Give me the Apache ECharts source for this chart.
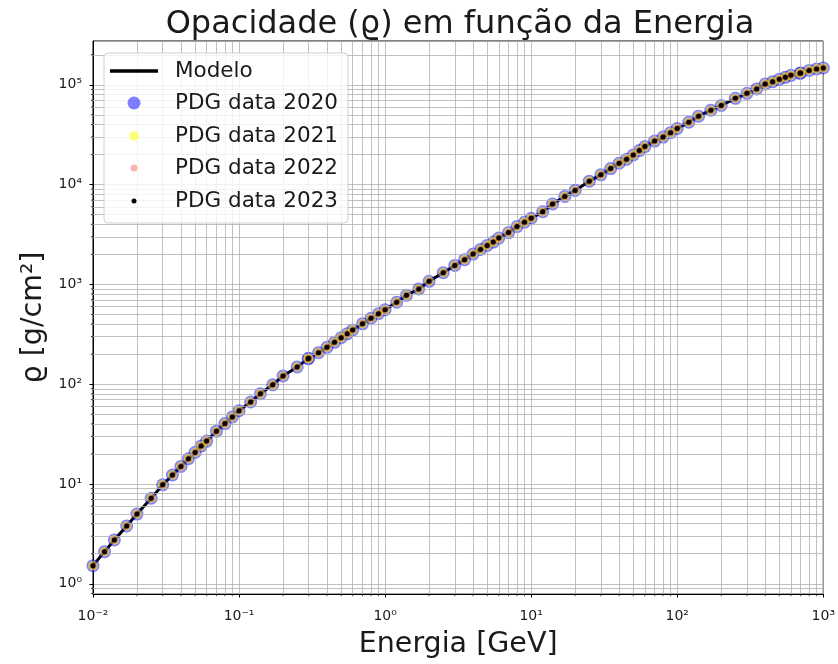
<!DOCTYPE html>
<html>
<head>
<meta charset="utf-8">
<title>Opacidade em função da Energia</title>
<script src="https://cdn.jsdelivr.net/npm/echarts@6/dist/echarts.min.js"></script>
<style>
html, body { margin: 0; padding: 0; background: #fff; }
#grafico { width: 838px; height: 664px; }
</style>
</head>
<body>
<div id="grafico"></div>
<script>
// energias da tabela PDG (GeV)
var energia = [0.01, 0.012, 0.014, 0.017, 0.02, 0.025, 0.03, 0.035, 0.04, 0.045, 0.05, 0.055, 0.06, 0.07, 0.08, 0.09,
	0.1, 0.12, 0.14, 0.17, 0.2, 0.25, 0.297, 0.3, 0.35, 0.4, 0.45, 0.5, 0.55, 0.6, 0.7, 0.8, 0.9,
	1.0, 1.2, 1.4, 1.7, 2, 2.5, 3, 3.5, 4, 4.5, 5, 5.5, 6, 7, 8, 9,
	10, 12, 14, 17, 20, 25, 30, 35, 40, 45, 50, 55, 60, 70, 80, 90,
	100, 120, 140, 170, 200, 250, 300, 350, 400, 450, 500, 550, 600, 693, 700, 800, 900, 1000];
// opacidade (g/cm2)
var opacidade = [1.52, 2.1, 2.75, 3.8, 5.0, 7.2, 9.8, 12.3, 15.0, 17.9, 20.7, 24.0, 26.9, 33.8, 40.3, 47.0,
	54.3, 66.3, 80.2, 98.6, 121, 149, 180, 182, 207, 234, 263, 292, 320, 350, 403, 458, 508,
	557, 663, 778, 902, 1074, 1312, 1550, 1767, 2014, 2240, 2457, 2655, 2911, 3311, 3796, 4198,
	4603, 5357, 6397, 7621, 8756, 10840, 12530, 14490, 16370, 17950, 19820, 21930, 24050, 27340, 29990, 33140,
	36570, 42270, 48530, 55700, 62070, 73300, 82300, 90950, 102000, 107700, 113600, 118900, 124500, 130500, 131500, 139600, 144100, 147500];
var nomesPDG = ['PDG data 2020', 'PDG data 2021', 'PDG data 2022', 'PDG data 2023'];
var coresPDG = ['#0000ff', '#ffff00', '#ff0000', '#000000'];
var opacPDG = [0.5, 0.5, 0.3, 1];
var tamPDG = [13, 10, 7, 5];
var mantissas = [2, 3, 4, 5, 6, 7, 8, 9];
var decadasX = [-2, -1, 0, 1, 2];
var decadasY = [-1, 0, 1, 2, 3, 4, 5];
var xMin = 0.01, xMax = 1000;
var yMin = 0.79, yMax = 2.75e5;

var FONTE = 'DejaVu Sans';
var COR_TEXTO = '#1a1a1a';
var sobrescrito = {'-': '\u207b', '0': '\u2070', '1': '\u00b9', '2': '\u00b2', '3': '\u00b3', '4': '\u2074', '5': '\u2075'};

function rotuloPot(v) {
	var e = Math.log10(v);
	var n = Math.round(e);
	if (Math.abs(e - n) > 1e-6) return '';
	var s = String(n).split('').map(function (c) { return sobrescrito[c]; }).join('');
	return '10' + s;
}

var pontos = energia.map(function (e, i) { return [e, opacidade[i]]; });

// linhas de grade menores (2..9 x 10^k) e marcas menores nos eixos
var grade = [];
var marcas = [];
decadasX.forEach(function (k) {
	mantissas.forEach(function (m) {
		var v = m * Math.pow(10, k);
		grade.push({xAxis: v});
		marcas.push([v, yMin, 0]);
	});
});
decadasY.forEach(function (k) {
	mantissas.forEach(function (m) {
		var v = m * Math.pow(10, k);
		if (v > yMin && v < yMax) {
			grade.push({yAxis: v});
			marcas.push([xMin, v, 1]);
		}
	});
});

var series = [
	{
		name: 'grade', type: 'line', data: [], z: 1, silent: true,
		markLine: {
			silent: true, symbol: 'none', animation: false,
			label: {show: false},
			lineStyle: {color: '#b0b0b0', width: 0.8, type: 'solid'},
			emphasis: {disabled: true},
			data: grade
		}
	},
	{
		name: 'marcas', type: 'custom', data: marcas, z: 2, silent: true, clip: false,
		renderItem: function (params, api) {
			var p = api.coord([api.value(0), api.value(1)]);
			var vertical = api.value(2) === 0;
			return {
				type: 'line',
				shape: vertical ? {x1: p[0], y1: p[1], x2: p[0], y2: p[1] + 2.2}
					: {x1: p[0] - 2.2, y1: p[1], x2: p[0], y2: p[1]},
				style: {stroke: '#000', lineWidth: 0.7}
			};
		}
	},
	{
		name: 'Modelo', type: 'line', data: pontos, z: 2, showSymbol: false,
		lineStyle: {color: '#000', width: 3}, itemStyle: {color: '#000'}
	}
];
nomesPDG.forEach(function (n, i) {
	series.push({
		name: n, type: 'scatter', data: pontos, z: 3 + i,
		symbolSize: tamPDG[i],
		itemStyle: {color: coresPDG[i], opacity: opacPDG[i]}
	});
});

function legenda(nome, centroY, esquerda, icone, w, h, recuo, cor, opac) {
	return {
		z: 11, left: esquerda, top: centroY - 12, padding: 0,
		selectedMode: false, orient: 'vertical',
		itemWidth: w, itemHeight: h,
		textStyle: {fontFamily: FONTE, fontSize: 21.5, color: COR_TEXTO, padding: [0, 0, 0, recuo]},
		data: [{name: nome, icon: icone, itemStyle: {color: cor, opacity: opac}}]
	};
}

var legendas = [legenda('Modelo', 72, 110, 'rect', 48, 3.5, 12, '#000', 1)];
var centros = [104, 137, 169, 202];
nomesPDG.forEach(function (n, i) {
	var s = tamPDG[i];
	legendas.push(legenda(n, centros[i], 134 - s / 2, 'circle', s, s, 36 - s / 2, coresPDG[i], opacPDG[i]));
});

var eixoComum = {
	type: 'log', logBase: 10,
	axisLine: {show: true, lineStyle: {color: '#000', width: 1}},
	axisTick: {show: true, length: 3.5, inside: false, lineStyle: {color: '#000'}},
	splitLine: {show: true, lineStyle: {color: '#b0b0b0', width: 0.8}},
	nameTextStyle: {fontFamily: FONTE, fontSize: 28.5, color: COR_TEXTO}
};

var option = {
	animation: false,
	backgroundColor: '#fff',
	title: {
		text: 'Opacidade (\u03f1) em fun\u00e7\u00e3o da Energia',
		left: 455, top: 4, textAlign: 'center',
		textStyle: {fontFamily: FONTE, fontSize: 32, fontWeight: 'normal', color: COR_TEXTO}
	},
	grid: {left: 93, right: 13, top: 41, bottom: 67, show: true, borderColor: '#000', borderWidth: 1, containLabel: false},
	xAxis: Object.assign({}, eixoComum, {
		min: xMin, max: xMax, splitNumber: 5,
		name: 'Energia [GeV]', nameLocation: 'middle', nameGap: 36,
		axisLabel: {fontFamily: FONTE, fontSize: 14, color: COR_TEXTO, margin: 15, formatter: rotuloPot,
			showMinLabel: true, showMaxLabel: true}
	}),
	yAxis: Object.assign({}, eixoComum, {
		min: yMin, max: yMax, splitNumber: 6,
		name: '\u03f1 [g/cm\u00b2]', nameLocation: 'middle', nameGap: 44,
		axisLabel: {fontFamily: FONTE, fontSize: 14, color: COR_TEXTO, margin: 11, padding: [4, 0, 0, 0],
			formatter: rotuloPot, showMinLabel: false, showMaxLabel: false}
	}),
	legend: legendas,
	graphic: [{
		type: 'rect', z: 10, silent: true,
		shape: {x: 104, y: 53, width: 244, height: 170, r: 4},
		style: {fill: 'rgba(255,255,255,0.8)', stroke: '#d0d0d0', lineWidth: 1}
	}],
	series: series
};

var grafico = echarts.init(document.getElementById('grafico'), null, {renderer: 'canvas'});
grafico.setOption(option);
</script>
</body>
</html>
